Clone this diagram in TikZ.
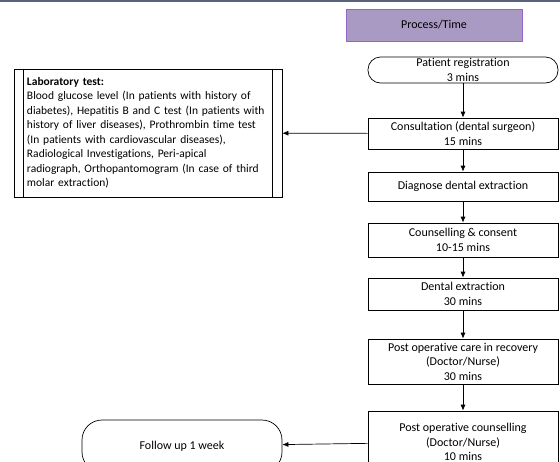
\documentclass[tikz,border=0pt]{standalone}
\usepackage{fontspec}
\setmainfont{Carlito}[Ligatures=NoCommon]
\usetikzlibrary{arrows.meta}

\definecolor{headfill}{RGB}{168,154,194}
\definecolor{headline}{RGB}{150,100,200}
\definecolor{topbar}{RGB}{88,98,120}

\begin{document}
\begin{tikzpicture}[x=1pt,y=-1pt,
  >={Latex[length=6pt,width=5pt]},
  txt/.style={font=\fontsize{12}{14.5}\selectfont},
  box/.style={txt, draw, line width=0.7pt, minimum width=190, align=center, inner sep=0pt},
  pill/.style={box, rounded corners=12.5},
  flow/.style={->, line width=0.7pt}]

\useasboundingbox (0,0) rectangle (560,461);

%\draw(0,0) grid[step=20] (560,461);

\draw[line width=2pt, topbar] (0,1) -- (560,1);

\node (head) at (434,25) [txt, draw=headline, fill=headfill, line width=0.8pt,
  minimum width=176, minimum height=32]{Process/Time};

\node (reg)   at (463,70)    [pill, minimum height=26]{Patient registration\\3 mins};
\node (cons)  at (463,133.5) [box, minimum height=31]{Consultation (dental surgeon)\\15 mins};
\node (diag)  at (463,186.5) [box, minimum height=29]{Diagnose dental extraction};
\node (couns) at (463,240)   [box, minimum height=34]{Counselling \& consent\\10-15 mins};
\node (ext)   at (463,294)   [box, minimum height=32]{Dental extraction\\30 mins};
\node (care)  at (463,361.5) [box, minimum height=45]{Post operative care in recovery\\(Doctor/Nurse)\\30 mins};
\node (pcouns) at (463,442)  [box, minimum height=62]{Post operative counselling\\(Doctor/Nurse)\\10 mins};

% laboratory test (predefined process)
\node (lab) at (148,133) [draw, line width=0.7pt, minimum width=268, minimum height=128,
  inner xsep=13, text width=242, align=left, font=\fontsize{11.5}{14.5}\selectfont]{\textbf{Laboratory test:}\\
Blood glucose level (In patients with history of\\
diabetes), Hepatitis B and C test (In patients with\\
history of liver diseases), Prothrombin time test\\
(In patients with cardiovascular diseases),\\
Radiological Investigations, Peri-apical\\
radiograph, Orthopantomogram (In case of third\\
molar extraction)};
\draw[line width=0.7pt] ([xshift=10]lab.north west) -- ([xshift=10]lab.south west);
\draw[line width=0.7pt] ([xshift=-10]lab.north east) -- ([xshift=-10]lab.south east);

\node (follow) at (182,446) [box, rounded corners=20, minimum width=200, minimum height=52]{Follow up 1 week};

\draw[flow] (reg) -- (cons);
\draw[flow] (cons) -- (diag);
\draw[flow] (diag) -- (couns);
\draw[flow] (couns) -- (ext);
\draw[flow] (ext) -- (care);
\draw[flow] (care) -- (pcouns);
\draw[flow] (cons) -- (lab);
\draw[flow] (pcouns) -- (follow);

\end{tikzpicture}
\end{document}
